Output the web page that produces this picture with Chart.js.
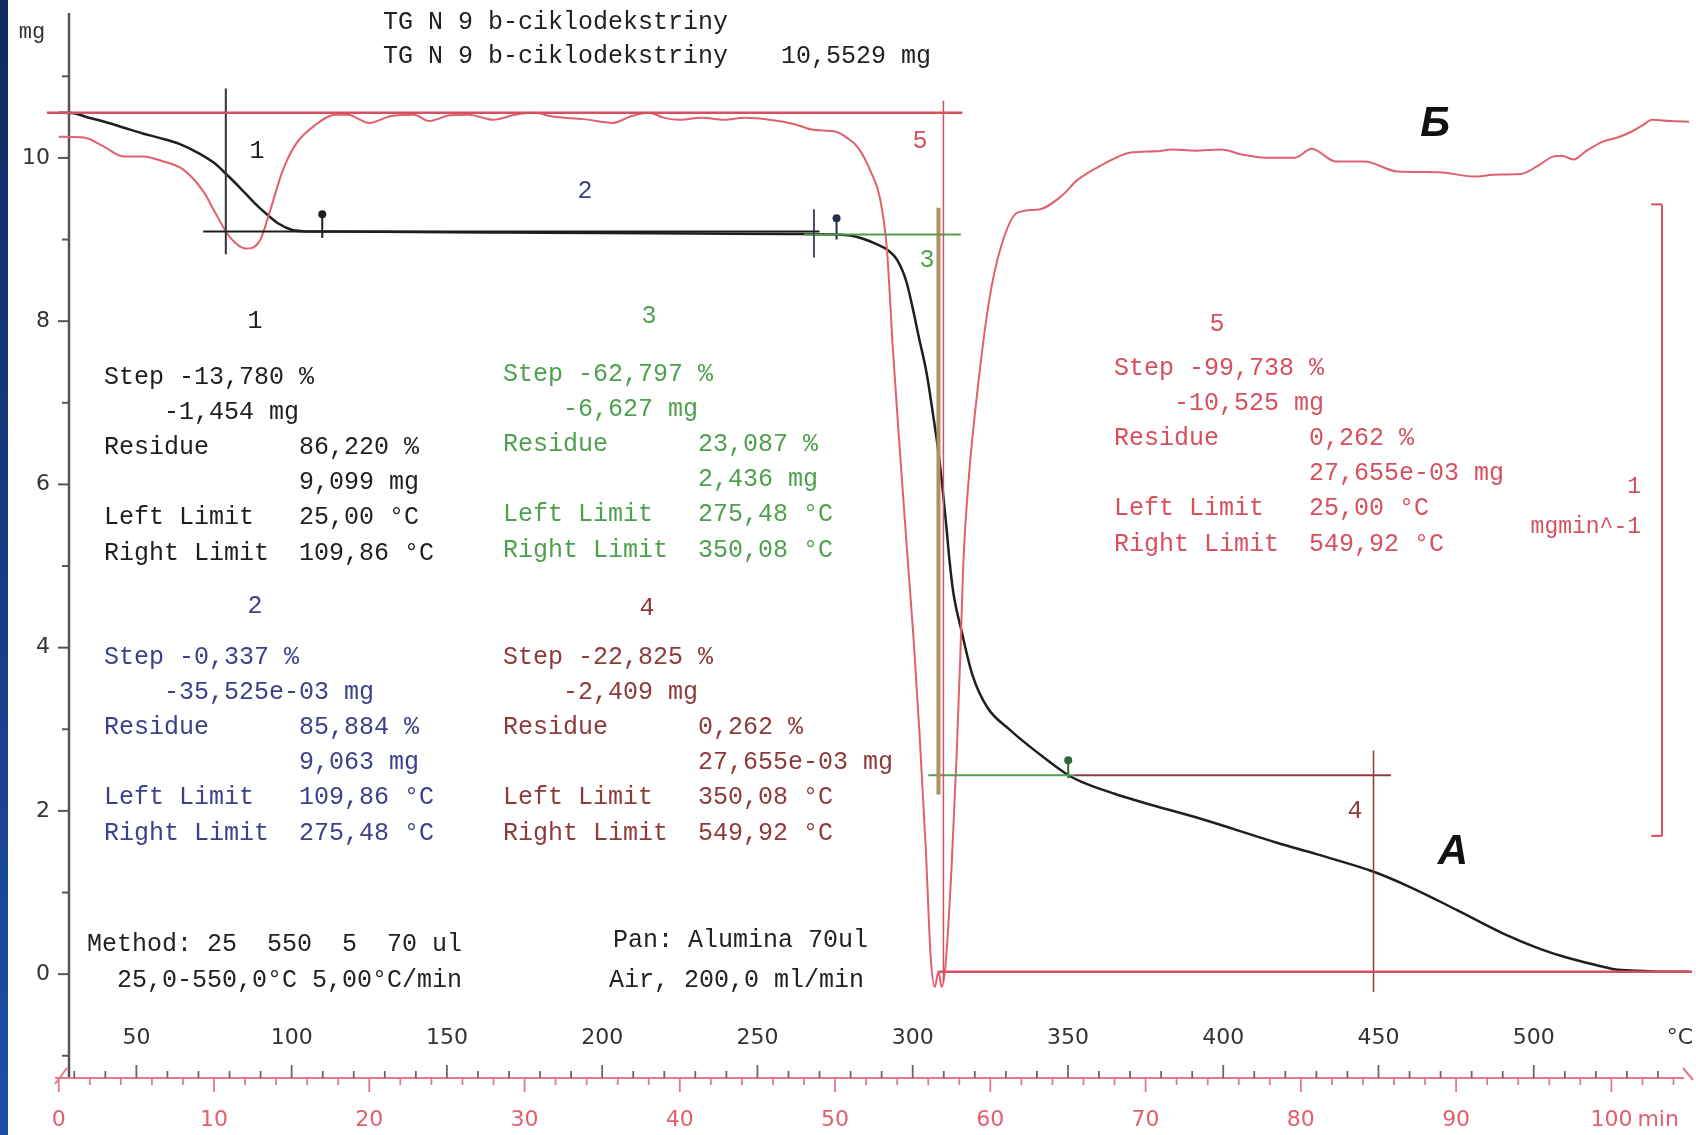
<!DOCTYPE html>
<html>
<head>
<meta charset="utf-8">
<title>TG N 9 b-ciklodekstriny</title>
<script src="https://cdn.jsdelivr.net/npm/chart.js@4.4.1/dist/chart.umd.min.js"></script>
<style>
  html, body { margin: 0; padding: 0; background: #fff; }
  #wrap { width: 1696px; height: 1135px; }
</style>
</head>
<body>
<div id="wrap"><canvas id="tg" width="1696" height="1135"></canvas></div>
<script>
// TG curve: sample mass (mg) against temperature (°C)
const tgTemp = [25, 29, 35, 40, 46, 52, 58, 64, 70, 75, 79, 84, 88, 92, 96, 100, 105, 110, 140, 170,
  200, 230, 260, 275.5, 280, 284, 288, 292, 295, 298, 300, 302, 304.5, 306.5, 308.7, 310.8, 311.9, 313.1, 315.7, 319.2,
  324, 331.4, 340, 350, 356, 365, 374.4, 393, 417.3, 430, 448, 460, 475, 490, 502, 510, 519, 526, 533, 540, 550];
const tgMass = [10.553, 10.55, 10.49, 10.44, 10.37, 10.30, 10.24, 10.17, 10.06, 9.94, 9.80, 9.61, 9.45, 9.31, 9.19, 9.12, 9.10, 9.099, 9.092, 9.086,
  9.080, 9.074, 9.068, 9.063, 9.05, 9.01, 8.95, 8.87, 8.75, 8.48, 8.16, 7.80, 7.36, 6.87, 6.27, 5.50, 5.05, 4.67, 4.21, 3.67,
  3.27, 2.99, 2.72, 2.44, 2.33, 2.21, 2.10, 1.90, 1.61, 1.47, 1.26, 1.07, 0.79, 0.50, 0.31, 0.21, 0.12, 0.06, 0.04, 0.03, 0.03];

// DTG curve: mass loss rate (mg/min)
const dtgTemp = [25, 33, 39.4, 45.8, 52.2, 58.7, 65.1, 71.5, 75.6, 80.1, 85.3, 89.7, 93, 97, 101.3, 107.7, 114.1, 118, 125, 132,
  139.4, 144.2, 151, 157, 165, 172, 178, 184, 194, 203.5, 209, 215, 220, 225, 232, 239.4, 246, 253.8, 262, 268,
  275.3, 279, 282.4, 286.5, 289.4, 291.7, 293.6, 295.8, 298.1, 300.3, 302.2, 304.2, 305.8, 307.1, 308.3, 309.3, 310.6, 312.5, 314.1, 315.4,
  316.3, 318, 321.2, 324.7, 328.2, 333.7, 340.7, 348.1, 352.9, 361.2, 370.2, 378.2, 383.7, 391, 399.4, 406, 413.8, 423.1, 428.5, 436.2,
  445.5, 456.1, 469.2, 481.1, 487, 495.8, 501, 506.4, 509, 512.8, 517, 522.1, 527, 531.4, 535, 538.1, 544, 550];
const dtgRate = [-0.038, -0.039, -0.053, -0.069, -0.069, -0.077, -0.090, -0.124, -0.160, -0.197, -0.215, -0.203, -0.156, -0.093, -0.050, -0.019, -0.003, -0.003, -0.016, -0.005,
  -0.003, -0.013, -0.004, -0.003, -0.011, -0.003, 0.0, -0.006, -0.010, -0.016, -0.006, 0.0, -0.008, -0.011, -0.008, -0.011, -0.008, -0.011, -0.018, -0.027,
  -0.030, -0.040, -0.055, -0.093, -0.134, -0.216, -0.373, -0.531, -0.688, -0.834, -0.983, -1.164, -1.337, -1.384, -1.36, -1.384, -1.348, -1.196, -1.023, -0.850,
  -0.713, -0.582, -0.425, -0.295, -0.216, -0.158, -0.153, -0.131, -0.107, -0.082, -0.063, -0.061, -0.058, -0.060, -0.058, -0.066, -0.071, -0.071, -0.057, -0.077,
  -0.077, -0.093, -0.094, -0.101, -0.098, -0.097, -0.085, -0.069, -0.068, -0.074, -0.060, -0.046, -0.039, -0.030, -0.020, -0.011, -0.013, -0.014];

// step evaluation results
const initialMass = 10.5529;
const residueMass = [9.099, 9.063, 2.436, 0.027655];   // after steps 1, 2, 3, 4/5
const stepLimits = [25.00, 109.86, 275.48, 350.08, 549.92];
const inflection = [78.8, 268.2, 308.3, 448.4, 309.9]; // steps 1..5

// axes
const massTicks = [-1, 0, 1, 2, 3, 4, 5, 6, 7, 8, 9, 10, 11];
const massLabels = [0, 2, 4, 6, 8, 10];
const tempLabels = [50, 100, 150, 200, 250, 300, 350, 400, 450, 500];
const timeLabels = [0, 10, 20, 30, 40, 50, 60, 70, 80, 90, 100];
const startTemp = 25, heatRate = 5;   // °C, °C/min
const dtgScaleBar = 1;                 // mg/min

// scale ranges so the plot area covers the whole canvas
const X_MIN = 7.37, X_MAX = 550.96;
const Y_MIN = -1.922, Y_MAX = 11.886;
const Y2_MIN = -1.6123, Y2_MAX = 0.1723;

const BLACK = '#1f1f1f', NAVY = '#3d4189', GREEN = '#4ea04e', DARKRED = '#8c3a3a', RED = '#d6505f', BROWN = '#b48c66';

const blocks = [
  { color: BLACK, head: '1', hx: 255, hy: 321, x: 104, y: 377, lines: [
    'Step -13,780 %', '    -1,454 mg', 'Residue      86,220 %', '             9,099 mg', 'Left Limit   25,00 °C', 'Right Limit  109,86 °C'] },
  { color: NAVY, head: '2', hx: 255, hy: 606, x: 104, y: 657, lines: [
    'Step -0,337 %', '    -35,525e-03 mg', 'Residue      85,884 %', '             9,063 mg', 'Left Limit   109,86 °C', 'Right Limit  275,48 °C'] },
  { color: GREEN, head: '3', hx: 649, hy: 316, x: 503, y: 374, lines: [
    'Step -62,797 %', '    -6,627 mg', 'Residue      23,087 %', '             2,436 mg', 'Left Limit   275,48 °C', 'Right Limit  350,08 °C'] },
  { color: DARKRED, head: '4', hx: 647, hy: 608, x: 503, y: 657, lines: [
    'Step -22,825 %', '    -2,409 mg', 'Residue      0,262 %', '             27,655e-03 mg', 'Left Limit   350,08 °C', 'Right Limit  549,92 °C'] },
  { color: RED, head: '5', hx: 1217, hy: 324, x: 1114, y: 368, lines: [
    'Step -99,738 %', '    -10,525 mg', 'Residue      0,262 %', '             27,655e-03 mg', 'Left Limit   25,00 °C', 'Right Limit  549,92 °C'] }
];

function pts(xs, ys) { return xs.map((x, i) => ({ x: x, y: ys[i] })); }

function seg(x0, y0, x1, y1, color, width, axis) {
  return { data: [{ x: x0, y: y0 }, { x: x1, y: y1 }], borderColor: color, borderWidth: width,
    yAxisID: axis || 'y', pointRadius: 0, tension: 0 };
}

function marker(t, y0, y1, color) {
  return { data: [{ x: t, y: y0 }, { x: t, y: y1 }], borderColor: color, borderWidth: 2,
    pointRadius: [0, 4], pointBackgroundColor: color, pointBorderWidth: 0, yAxisID: 'y' };
}

const datasets = [
  // step 5 (whole curve) limits
  seg(21.2, initialMass, 316, initialMass, RED, 2.5),
  seg(inflection[2], residueMass[3], 551, residueMass[3], RED, 2.5),
  seg(inflection[4], 10.7, inflection[4], -0.1, RED, 1.5),
  // step 1
  seg(inflection[0], 10.85, inflection[0], 8.82, '#333', 2),
  seg(71.5, residueMass[0], 270, residueMass[0], BLACK, 2),
  // step 2
  seg(inflection[1], 9.37, inflection[1], 8.78, '#4a4a6a', 2),
  // step 3
  seg(265, residueMass[1], 315.5, residueMass[1], GREEN, 2),
  seg(inflection[2], 9.39, inflection[2], 2.2, BROWN, 4),
  seg(305, residueMass[2], stepLimits[3] + 2, residueMass[2], GREEN, 2),
  // step 4
  seg(stepLimits[3] + 2, residueMass[2], 454, residueMass[2], DARKRED, 2),
  seg(inflection[3], 2.74, inflection[3], -0.22, DARKRED, 1.5),
  // limit markers
  marker(stepLimits[1], 9.02, 9.31, BLACK),
  marker(stepLimits[2], 9.0, 9.26, '#22304a'),
  marker(stepLimits[3], 2.40, 2.62, '#2d6a2d'),
  // DTG scale bar, 1 mg/min
  seg(541.3, -0.145, 541.3, -0.145 - dtgScaleBar, RED, 2, 'y2'),
  seg(537.8, -0.145, 541.3, -0.145, RED, 2, 'y2'),
  seg(537.8, -0.145 - dtgScaleBar, 541.3, -0.145 - dtgScaleBar, RED, 2, 'y2'),
  // curves
  { data: pts(dtgTemp, dtgRate), yAxisID: 'y2', borderColor: '#e0606e', borderWidth: 2,
    pointRadius: 0, cubicInterpolationMode: 'monotone' },
  { data: pts(tgTemp, tgMass), yAxisID: 'y', borderColor: BLACK, borderWidth: 2.5,
    pointRadius: 0, cubicInterpolationMode: 'monotone' }
];

const MONO = '"Liberation Mono", "DejaVu Sans Mono", monospace';
const SANS = '"DejaVu Sans", sans-serif';

const decor = {
  id: 'decor',
  beforeDraw(chart) {
    const ctx = chart.ctx;
    ctx.save();
    ctx.fillStyle = '#fff';
    ctx.fillRect(0, 0, chart.width, chart.height);
    const g = ctx.createLinearGradient(0, 0, 0, chart.height);
    g.addColorStop(0, '#0e2a60');
    g.addColorStop(1, '#1d4fa6');
    ctx.fillStyle = g;
    ctx.fillRect(0, 0, 8, chart.height);
    ctx.restore();
  },
  beforeDatasetsDraw(chart) {
    const ctx = chart.ctx;
    const xs = chart.scales.x, ys = chart.scales.y;
    const axisX = 69, axisY = 1078;
    ctx.save();

    // mass axis
    ctx.strokeStyle = '#555';
    ctx.lineWidth = 2.5;
    ctx.beginPath();
    ctx.moveTo(axisX, 13);
    ctx.lineTo(axisX, axisY);
    ctx.stroke();
    ctx.lineWidth = 2;
    massTicks.forEach(v => {
      const y = ys.getPixelForValue(v);
      const len = v % 2 === 0 ? 11 : 7;
      ctx.beginPath();
      ctx.moveTo(axisX - len, y);
      ctx.lineTo(axisX, y);
      ctx.stroke();
    });
    ctx.fillStyle = '#333';
    ctx.font = '22px ' + SANS;
    ctx.textAlign = 'right';
    ctx.textBaseline = 'middle';
    massLabels.forEach(v => ctx.fillText(String(v), 50, ys.getPixelForValue(v)));
    ctx.font = '22px ' + MONO;
    ctx.textAlign = 'center';
    ctx.fillText('mg', 32, 32);

    // temperature / time axis
    ctx.strokeStyle = '#e27a88';
    ctx.lineWidth = 2;
    ctx.beginPath();
    ctx.moveTo(55, axisY);
    ctx.lineTo(1684, axisY);
    ctx.moveTo(55, axisY + 6);
    ctx.lineTo(67, axisY - 10);
    ctx.moveTo(1683, axisY - 10);
    ctx.lineTo(1693, axisY + 2);
    ctx.stroke();
    ctx.strokeStyle = '#666';
    ctx.lineWidth = 1.8;
    for (let t = 30; t <= 545; t += 10) {
      const x = xs.getPixelForValue(t);
      const len = t % 50 === 0 ? 13 : 7;
      ctx.beginPath();
      ctx.moveTo(x, axisY);
      ctx.lineTo(x, axisY - len);
      ctx.stroke();
    }
    ctx.strokeStyle = '#e27a88';
    for (let m = 0; m <= 104; m += 2) {
      const x = xs.getPixelForValue(startTemp + heatRate * m);
      const len = m % 10 === 0 ? 14 : 7;
      ctx.beginPath();
      ctx.moveTo(x, axisY);
      ctx.lineTo(x, axisY + len);
      ctx.stroke();
    }
    ctx.font = '22px ' + SANS;
    ctx.fillStyle = '#333';
    ctx.textAlign = 'center';
    tempLabels.forEach(t => ctx.fillText(String(t), xs.getPixelForValue(t), 1038));
    ctx.fillText('°C', 1680, 1038);
    ctx.fillStyle = '#e0606e';
    timeLabels.forEach(m => ctx.fillText(String(m), xs.getPixelForValue(startTemp + heatRate * m), 1120));
    ctx.textAlign = 'left';
    ctx.fillText('min', xs.getPixelForValue(startTemp + heatRate * 100) + 26, 1120);

    // header and method text
    ctx.font = '25px ' + MONO;
    ctx.fillStyle = '#222';
    ctx.textAlign = 'left';
    ctx.fillText('TG N 9 b-ciklodekstriny', 383, 22);
    ctx.fillText('TG N 9 b-ciklodekstriny', 383, 56);
    ctx.fillText('10,5529 mg', 781, 56);
    ctx.fillText('Method: 25  550  5  70 ul', 87, 944);
    ctx.fillText('  25,0-550,0°C 5,00°C/min', 87, 980);
    ctx.fillText('Pan: Alumina 70ul', 613, 940);
    ctx.fillText('Air, 200,0 ml/min', 609, 980);

    // step result blocks
    blocks.forEach(b => {
      ctx.fillStyle = b.color;
      ctx.textAlign = 'center';
      ctx.fillText(b.head, b.hx, b.hy);
      ctx.textAlign = 'left';
      b.lines.forEach((s, i) => ctx.fillText(s, b.x, b.y + i * 35.2));
    });

    // step numbers on the curves
    ctx.textAlign = 'center';
    ctx.fillStyle = BLACK;   ctx.fillText('1', 257, 151);
    ctx.fillStyle = NAVY;    ctx.fillText('2', 585, 191);
    ctx.fillStyle = GREEN;   ctx.fillText('3', 927, 260);
    ctx.fillStyle = RED;     ctx.fillText('5', 920, 141);
    ctx.fillStyle = DARKRED; ctx.fillText('4', 1355, 811);

    // DTG scale bar caption
    ctx.fillStyle = RED;
    ctx.font = '23px ' + MONO;
    ctx.textAlign = 'right';
    ctx.fillText('1', 1641, 487);
    ctx.fillText('mgmin^-1', 1641, 527);

    // curve names
    ctx.fillStyle = '#111';
    ctx.font = 'italic bold 42px "Liberation Sans", Arial, sans-serif';
    ctx.textAlign = 'center';
    ctx.fillText('Б', 1435, 124);
    ctx.fillText('А', 1453, 852);
    ctx.restore();
  }
};

new Chart(document.getElementById('tg'), {
  type: 'line',
  data: { datasets: datasets },
  options: {
    responsive: false,
    animation: false,
    devicePixelRatio: 1,
    events: [],
    layout: { padding: 0 },
    plugins: { legend: { display: false }, tooltip: { enabled: false }, title: { display: false } },
    scales: {
      x: { type: 'linear', min: X_MIN, max: X_MAX, display: false },
      y: { type: 'linear', min: Y_MIN, max: Y_MAX, display: false },
      y2: { type: 'linear', min: Y2_MIN, max: Y2_MAX, display: false }
    }
  },
  plugins: [decor]
});
</script>
</body>
</html>
